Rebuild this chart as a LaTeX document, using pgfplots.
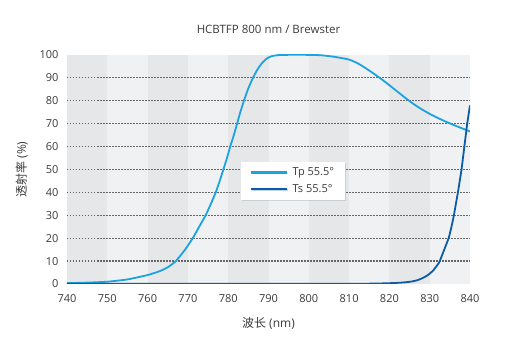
\documentclass[border=0pt]{standalone}
\usepackage{fontspec}
\setmainfont{Open Sans}
\newfontfamily\cjk{Noto Sans CJK SC}
\usepackage{pgfplots}
\pgfplotsset{compat=1.18}
\usetikzlibrary{shadows}
\definecolor{tp}{HTML}{1AA3E0}
\definecolor{ts}{HTML}{0B5BA6}
\definecolor{bandA}{HTML}{E6E7E8}
\definecolor{bandB}{HTML}{F0F1F2}
\definecolor{txt}{HTML}{3A3A3A}
\definecolor{gridc}{HTML}{666666}
\begin{document}
\begin{tikzpicture}[x=1pt,y=1pt]
\useasboundingbox (0,0) rectangle (519,353);
\begin{axis}[
  at={(67pt,69pt)}, anchor=south west,
  scale only axis, width=403pt, height=229pt,
  xmin=740, xmax=840, ymin=0, ymax=100,
  xtick={740,750,...,840}, ytick={0,10,...,100},
  axis line style={draw=none},
  major tick length=0pt,
  tick label style={font=\fontsize{11}{13}\selectfont, text=txt},
  /pgf/number format/assume math mode=true,
  /pgf/number format/1000 sep={},
  xticklabel style={yshift=-7pt},
  yticklabel style={xshift=-5pt},
  title={HCBTFP 800 nm / Brewster},
  title style={font=\fontsize{11.5}{13}\selectfont, text=txt, at={(axis description cs:0.5,1.087)}, anchor=center},
  xlabel={{\cjk 波长} (nm)},
  xlabel style={font=\fontsize{12}{14}\selectfont, text=txt, at={(axis description cs:0.5,-0.170)}, anchor=center},
  ylabel={{\cjk 透射率} (\%)},
  ylabel style={font=\fontsize{12}{14}\selectfont, text=txt, at={(axis description cs:-0.112,0.5)}, anchor=center},
  legend style={at={(0.432,0.535)}, anchor=north west, draw=none, fill=white,
    font=\fontsize{11}{13}\selectfont, text=txt,
    drop shadow={shadow xshift=1pt, shadow yshift=-1pt, opacity=0.25},
    inner xsep=9pt, inner ysep=4pt, row sep=3pt,
    /tikz/every odd column/.append style={column sep=2pt}},
  legend cell align=left,
  legend image code/.code={\draw[#1, line width=2.2pt] (0pt,0pt) -- (36pt,0pt);},
  clip=true,
]
\fill[bandA] (axis cs:740,0) rectangle (axis cs:750,100);
\fill[bandB] (axis cs:750,0) rectangle (axis cs:760,100);
\fill[bandA] (axis cs:760,0) rectangle (axis cs:770,100);
\fill[bandB] (axis cs:770,0) rectangle (axis cs:780,100);
\fill[bandA] (axis cs:780,0) rectangle (axis cs:790,100);
\fill[bandB] (axis cs:790,0) rectangle (axis cs:800,100);
\fill[bandA] (axis cs:800,0) rectangle (axis cs:810,100);
\fill[bandB] (axis cs:810,0) rectangle (axis cs:820,100);
\fill[bandA] (axis cs:820,0) rectangle (axis cs:830,100);
\fill[bandB] (axis cs:830,0) rectangle (axis cs:840,100);
\pgfplotsinvokeforeach{10,20,...,90}{
  \draw[gridc, line width=1.2pt, dash pattern=on 1.5pt off 1.5pt] (axis cs:740,#1) -- (axis cs:840,#1);
}
\addplot[tp, line width=1.8pt, smooth, tension=0.3] coordinates {
(740,0.4) (745,0.6) (750,1.0) (755,2.0) (760,3.9) (763,5.6) (765,7.3) (767,10)
(769.3,15) (771.2,20) (772.8,25) (774.4,30) (775.7,35) (776.9,40) (777.9,45)
(778.8,50) (779.7,55) (780.5,60) (781.4,65) (782.2,70) (783,75) (783.9,80)
(784.9,85) (786,89.5) (787.2,93.5) (788.4,96.5) (789.6,98.5) (790.8,99.5) (792.5,99.95)
(796,100.1) (800,100.05) (803,99.9) (806,99.3) (808,98.7) (810,98)
(812,96.5) (814,94.4) (816,92) (818,89.5) (820,86.8) (822,84) (824,81.2)
(826,78.6) (828,76.3) (830,74.3) (832,72.5) (834,70.9) (836,69.4) (838,68) (840,66.6)
};
\addlegendentry{Tp 55.5°}
\addplot[ts, line width=1.8pt, smooth, tension=0.3] coordinates {
(740,0.05) (760,0.05) (780,0.05) (800,0.05) (810,0.1) (815,0.15) (818,0.25) (820,0.35)
(822.6,0.55) (824.5,0.85) (825.9,1.2) (827,1.7) (828,2.4) (829.2,3.5) (830,4.5) (831,6.2)
(832,8.5) (832.5,10) (833.6,15) (834.7,20) (835.4,25) (836,30) (836.5,35) (837,40)
(837.45,45) (837.9,50) (838.25,55) (838.6,60) (838.95,65) (839.3,70) (839.65,74) (840,78)
};
\addlegendentry{Ts 55.5°}
\end{axis}
\end{tikzpicture}
\end{document}
